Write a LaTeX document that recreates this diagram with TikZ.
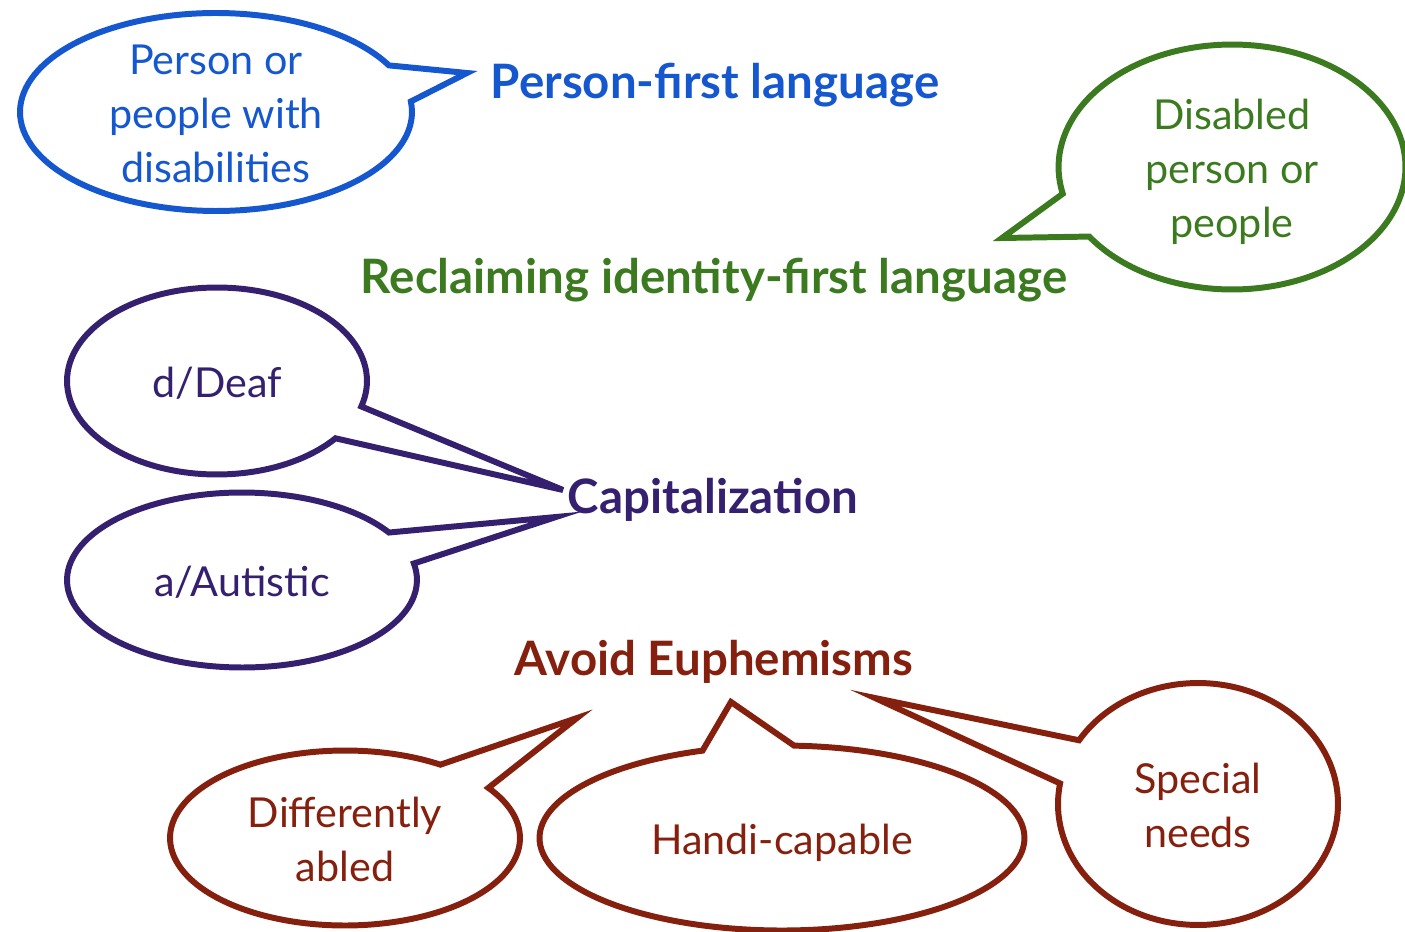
\documentclass[tikz,border=0pt]{standalone}
\usepackage{fontspec}
\setmainfont{Lato}
\usetikzlibrary{shapes.callouts}
\definecolor{cblue}{HTML}{1557CF}
\definecolor{cgreen}{HTML}{3B7A1F}
\definecolor{cpurple}{HTML}{35206F}
\definecolor{cred}{HTML}{86200E}
\newcommand{\bubbletext}[1]{\smash{\raisebox{-9.5pt}{\begin{tabular}{@{}c@{}}#1\end{tabular}}}}
\tikzset{
	bubble/.style={ellipse callout, draw=#1, text=#1, line width=3.4pt, inner sep=0pt,
		callout pointer arc=22, font=\fontsize{23.5}{30.6}\selectfont},
	heading/.style={text=#1, inner sep=0pt, font=\fontsize{27}{32}\selectfont\bfseries},
}

\begin{document}
\begin{tikzpicture}[x=0.02cm, y=-0.02cm]
			\useasboundingbox (0,0) rectangle (1405,932);

			\node[heading=cblue] (pfl) at (715,85) {Person-first language};
			\node[heading=cgreen] (ifl) at (714,280) {Reclaiming identity-first language};
			\node[heading=cpurple] (cap) at (713,500) {Capitalization};
			\node[heading=cred] (euph) at (714,662) {Avoid Euphemisms};

			\coordinate (pfl-tip) at (467,73);
			\coordinate (ifl-tip) at (1002,238);
			\coordinate (deaf-tip) at (563,490);
			\coordinate (aut-tip) at (556,517);
			\coordinate (diff-tip) at (577,718);
			\coordinate (handi-tip) at (731,702);
			\coordinate (spec-tip) at (875,698);

			\node[bubble=cblue, minimum width=7.84cm, minimum height=3.96cm, callout absolute pointer={(pfl-tip)}]
				(pwd) at (216,112) {\bubbletext{Person or\\people with\\disabilities}};
			\node[bubble=cgreen, minimum width=6.94cm, minimum height=4.9cm, callout absolute pointer={(ifl-tip)}]
				(dp) at (1232,167) {\bubbletext{Disabled\\person or\\people}};
			\node[bubble=cpurple, minimum width=6cm, minimum height=3.74cm, callout absolute pointer={(deaf-tip)}]
				(deaf) at (217,381) {\bubbletext{d/Deaf}};
			\node[bubble=cpurple, minimum width=7cm, minimum height=3.5cm, callout absolute pointer={(aut-tip)}]
				(aut) at (242,580) {\bubbletext{a/Autistic}};
			\node[bubble=cred, minimum width=7cm, minimum height=3.5cm, callout absolute pointer={(diff-tip)}]
				(diff) at (345,838) {\bubbletext{Differently\\abled}};
			\node[bubble=cred, minimum width=9.7cm, minimum height=3.7cm, callout absolute pointer={(handi-tip)}]
				(handi) at (782,838) {\bubbletext{Handi-capable}};
			\node[bubble=cred, minimum width=5.6cm, minimum height=4.84cm, callout absolute pointer={(spec-tip)}]
				(spec) at (1198,804) {\bubbletext{Special\\needs}};
		\end{tikzpicture}
\end{document}
